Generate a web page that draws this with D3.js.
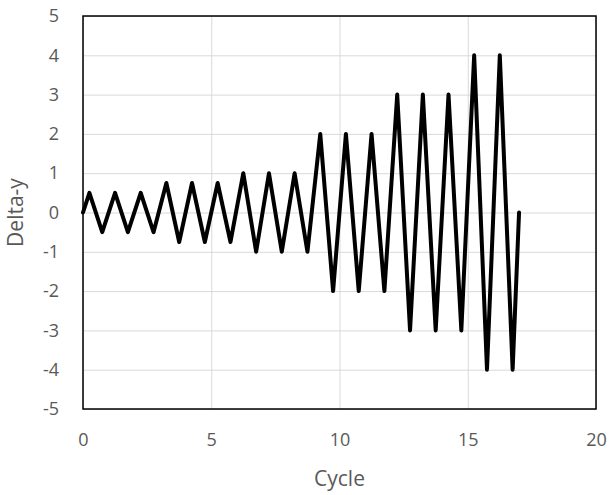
<!DOCTYPE html>
<html>
<head>
<meta charset="utf-8">
<script src="https://cdn.jsdelivr.net/npm/d3@7"></script>
<style>
  body { margin: 0; background: #fff; }
  svg { display: block; }
</style>
</head>
<body>
<svg id="chart" width="610" height="495"></svg>
<script>
// cycle positions (quarter cycles) and delta-y values
let cycleX = [0, 0.25, 0.75, 1.25, 1.75, 2.25, 2.75,
  3.25, 3.75, 4.25, 4.75, 5.25, 5.75,
  6.25, 6.75, 7.25, 7.75, 8.25, 8.75,
  9.25, 9.75, 10.25, 10.75, 11.25, 11.75,
  12.25, 12.75, 13.25, 13.75, 14.25, 14.75,
  15.25, 15.75, 16.25, 16.75, 17];
let deltaY = [0, 0.5, -0.5, 0.5, -0.5, 0.5, -0.5,
  0.75, -0.75, 0.75, -0.75, 0.75, -0.75,
  1, -1, 1, -1, 1, -1,
  2, -2, 2, -2, 2, -2,
  3, -3, 3, -3, 3, -3,
  4, -4, 4, -4, 0];
let xTicks = [0, 5, 10, 15, 20];
let yTicks = [-5, -4, -3, -2, -1, 0, 1, 2, 3, 4, 5];

let plotLeft = 83, plotRight = 596, plotTop = 16, plotBottom = 409;
let textColor = "#595959";
let gridColor = "#d9d9d9";
let fontFam = "'Open Sans', 'Liberation Sans', sans-serif";

let svg = d3.select("#chart");

let x = d3.scaleLinear().domain([0, 20]).range([plotLeft, plotRight]);
let y = d3.scaleLinear().domain([-5, 5]).range([plotBottom, plotTop]);

// plain hyphen minus like the original
let fmt = function(d) { return String(d); };

// horizontal gridlines
svg.append("g")
  .attr("transform", "translate(" + plotLeft + ",0)")
  .call(d3.axisLeft(y).tickValues(yTicks).tickSize(-(plotRight - plotLeft)).tickFormat(""))
  .call(g => g.select(".domain").remove())
  .call(g => g.selectAll("line").attr("stroke", gridColor).attr("stroke-width", 1));

// vertical gridlines
svg.append("g")
  .attr("transform", "translate(0," + plotBottom + ")")
  .call(d3.axisBottom(x).tickValues(xTicks).tickSize(-(plotBottom - plotTop)).tickFormat(""))
  .call(g => g.select(".domain").remove())
  .call(g => g.selectAll("line").attr("stroke", gridColor).attr("stroke-width", 1));

// plot border
svg.append("rect")
  .attr("x", plotLeft)
  .attr("y", plotTop)
  .attr("width", plotRight - plotLeft)
  .attr("height", plotBottom - plotTop)
  .attr("fill", "none")
  .attr("stroke", "#000")
  .attr("stroke-width", 1.5);

// y tick labels
svg.append("g")
  .attr("transform", "translate(" + plotLeft + ",0)")
  .call(d3.axisLeft(y).tickValues(yTicks).tickSize(0).tickPadding(24).tickFormat(fmt))
  .call(g => g.select(".domain").remove())
  .call(g => g.selectAll("text")
    .attr("fill", textColor)
    .style("font-family", fontFam)
    .style("font-size", "18px"));

// x tick labels
svg.append("g")
  .attr("transform", "translate(0," + plotBottom + ")")
  .call(d3.axisBottom(x).tickValues(xTicks).tickSize(0).tickPadding(24).tickFormat(fmt))
  .call(g => g.select(".domain").remove())
  .call(g => g.selectAll("text")
    .attr("fill", textColor)
    .style("font-family", fontFam)
    .style("font-size", "18px"));

// the zigzag line
let line = d3.line()
  .x(function(d, i) { return x(cycleX[i]); })
  .y(function(d) { return y(d); });

svg.append("path")
  .datum(deltaY)
  .attr("d", line)
  .attr("fill", "none")
  .attr("stroke", "#000")
  .attr("stroke-width", 4)
  .attr("stroke-linejoin", "round")
  .attr("stroke-linecap", "round");

// axis titles
svg.append("text")
  .attr("x", (plotLeft + plotRight) / 2)
  .attr("y", 480)
  .text("Cycle")
  .style("text-anchor", "middle")
  .style("dominant-baseline", "middle")
  .style("font-family", fontFam)
  .style("font-size", "21px")
  .attr("fill", textColor);

svg.append("text")
  .attr("transform", "translate(17," + (plotTop + plotBottom) / 2 + ") rotate(-90)")
  .text("Delta-y")
  .style("text-anchor", "middle")
  .style("dominant-baseline", "middle")
  .style("font-family", fontFam)
  .style("font-size", "21px")
  .attr("fill", textColor);
</script>
</body>
</html>
